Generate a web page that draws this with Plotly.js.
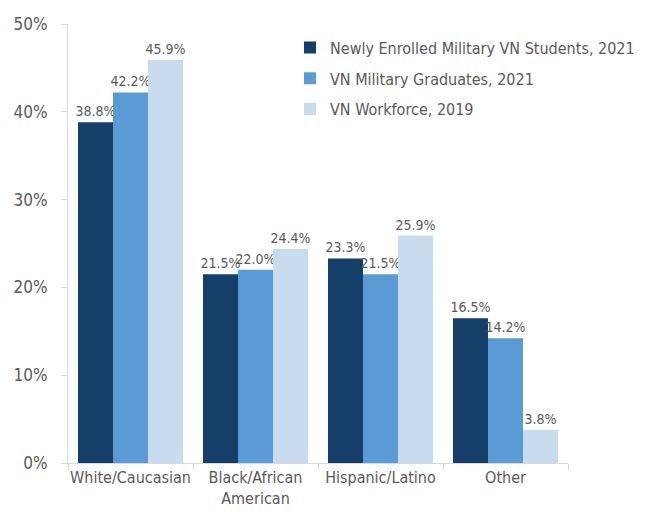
<!DOCTYPE html>
<html><head><meta charset="utf-8">
<script src="https://cdn.plot.ly/plotly-3.0.1.min.js"></script>
<style>html,body{margin:0;padding:0;background:#fff}#c{width:645px;height:517px}</style>
</head><body><div id="c"></div>
<script>
const categories = ["White/Caucasian", "Black/African<br>American", "Hispanic/Latino", "Other"];
const seriesNames = ["Newly Enrolled Military VN Students, 2021", "VN Military Graduates, 2021", "VN Workforce, 2019"];
const enrolled = [38.8, 21.5, 23.3, 16.5];
const graduates = [42.2, 22.0, 21.5, 14.2];
const workforce = [45.9, 24.4, 25.9, 3.8];
const colors = ["#153f69", "#5b9bd5", "#c9dcee"];
const yTicks = [0, 10, 20, 30, 40, 50];
const yTickText = ["0%", "10%", "20%", "30%", "40%", "50%"];

const FONT = "'DejaVu Sans Condensed', 'Liberation Sans Narrow', sans-serif";
const series = [enrolled, graduates, workforce];
const data = series.map((vals, i) => ({
  type: "bar",
  name: seriesNames[i],
  legendgroup: "g" + i,
  x: categories,
  y: vals,
  marker: {color: colors[i]},
  text: vals.map(v => v.toFixed(1) + "%"),
  textposition: "outside",
  constraintext: "none",
  cliponaxis: false,
  textfont: {family: FONT, size: 14, color: "#595959"},
  hoverinfo: "skip"
}));

Plotly.newPlot("c", data, {
  width: 645, height: 517,
  margin: {l: 68, r: 77, t: 24, b: 54, autoexpand: false},
  paper_bgcolor: "#fff", plot_bgcolor: "#fff",
  barmode: "group", bargap: 0.16, bargroupgap: 0,
  font: {family: FONT, size: 15, color: "#595959"},
  showlegend: true,
  legend: {x: 0.444, y: 0.985, xanchor: "left", yanchor: "top", bgcolor: "rgba(0,0,0,0)",
    font: {family: FONT, size: 16, color: "#595959"}, tracegroupgap: 7, itemwidth: 30},
  xaxis: {showgrid: false, showline: true, linecolor: "#d9d9d9", linewidth: 1,
    ticks: "outside", tickson: "boundaries", ticklen: 6, tickcolor: "#d9d9d9", tickangle: 0,
    tickfont: {family: FONT, size: 16, color: "#595959"}, fixedrange: true},
  yaxis: {range: [0, 50], tickvals: yTicks, ticktext: yTickText, showgrid: false,
    showline: true, linecolor: "#d9d9d9", linewidth: 1, ticks: "outside", ticklen: 6,
    tickcolor: "#d9d9d9", zeroline: false, ticklabelstandoff: 10,
    tickfont: {family: FONT, size: 17, color: "#595959"}, fixedrange: true}
}, {displayModeBar: false, staticPlot: true});
</script></body></html>
